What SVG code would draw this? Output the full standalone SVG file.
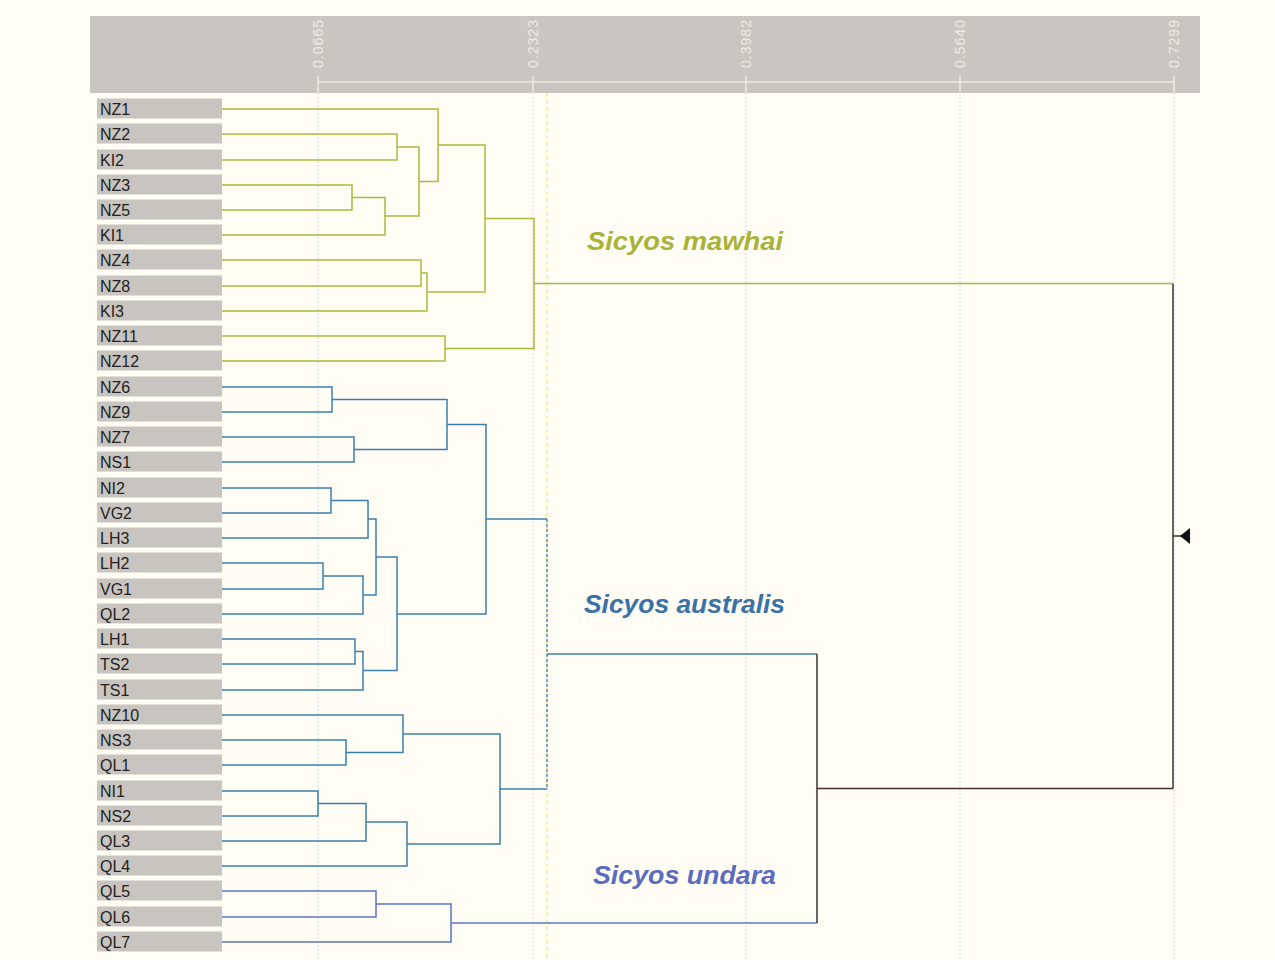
<svg xmlns="http://www.w3.org/2000/svg" width="1275" height="960" viewBox="0 0 1275 960">
<style>
.lbl{fill:#c8c5c0}
.lt{font-family:"Liberation Sans",Arial,sans-serif;font-size:16px;fill:#222}
.tick{font-family:"Liberation Sans",Arial,sans-serif;font-size:14px;fill:#f0eae2}
.grid{stroke:#cfdbe3;stroke-width:1;stroke-dasharray:2 2;fill:none}
.m{stroke:#adb83e;stroke-width:1.5;fill:none}
.a{stroke:#3c7fae;stroke-width:1.5;fill:none}
.u{stroke:#5a74c6;stroke-width:1.5;fill:none}
.k{stroke:#3a3434;stroke-width:1.5;fill:none}
.sp{font-family:"Liberation Sans",Arial,sans-serif;font-size:26px;font-weight:bold;font-style:italic}
</style>
<rect x="0" y="0" width="1275" height="960" fill="#fffdf4"/>
<g id="axis">
<rect x="90" y="16" width="1110" height="77" fill="#c9c6c1"/>
<line x1="318" y1="82" x2="1174" y2="82" stroke="#efe9e1" stroke-width="1.5"/>
<g stroke="#efe9e1" stroke-width="1.5">
<line x1="318" y1="76" x2="318" y2="93"/>
<line x1="533" y1="76" x2="533" y2="93"/>
<line x1="746" y1="76" x2="746" y2="93"/>
<line x1="960" y1="76" x2="960" y2="93"/>
<line x1="1174" y1="76" x2="1174" y2="93"/>
</g>
<text class="tick" transform="translate(323,68) rotate(-90)" textLength="48">0.0665</text>
<text class="tick" transform="translate(538,68) rotate(-90)" textLength="48">0.2323</text>
<text class="tick" transform="translate(751,68) rotate(-90)" textLength="48">0.3982</text>
<text class="tick" transform="translate(965,68) rotate(-90)" textLength="48">0.5640</text>
<text class="tick" transform="translate(1179,68) rotate(-90)" textLength="48">0.7299</text>
</g>
<g id="gridlines">
<line class="grid" x1="318" y1="93" x2="318" y2="960"/>
<line class="grid" x1="533" y1="93" x2="533" y2="960"/>
<line class="grid" x1="746" y1="93" x2="746" y2="960"/>
<line class="grid" x1="960" y1="93" x2="960" y2="960"/>
<line class="grid" x1="1174" y1="93" x2="1174" y2="960"/>
<line x1="547" y1="93" x2="547" y2="960" stroke="#e4e46a" stroke-width="1" stroke-dasharray="4 3"/>
</g>
<g id="connectors">
<!-- Sicyos mawhai -->
<path class="m" d="M222,134 H397 V160 H222"/>
<path class="m" d="M222,185 H352 V210 H222"/>
<path class="m" d="M352,197.5 H385 V235 H222"/>
<path class="m" d="M397,147 H419 V216 H385"/>
<path class="m" d="M222,109 H438 V181.5 H419"/>
<path class="m" d="M222,260 H421 V286 H222"/>
<path class="m" d="M421,273 H427 V311 H222"/>
<path class="m" d="M438,145 H485 V292 H427"/>
<path class="m" d="M222,336 H445 V361 H222"/>
<path class="m" d="M485,218.5 H534 V348.5 H445"/>
<path class="m" d="M534,283.5 H1173"/>
<!-- Sicyos australis -->
<path class="a" d="M222,387 H332 V412 H222"/>
<path class="a" d="M222,437 H354 V462 H222"/>
<path class="a" d="M332,399.5 H447 V449.5 H354"/>
<path class="a" d="M222,488 H331 V513 H222"/>
<path class="a" d="M331,500.5 H368 V538 H222"/>
<path class="a" d="M222,563 H323 V589 H222"/>
<path class="a" d="M323,576 H363 V614 H222"/>
<path class="a" d="M368,519 H376 V595 H363"/>
<path class="a" d="M222,639 H355 V664 H222"/>
<path class="a" d="M355,651.5 H363 V690 H222"/>
<path class="a" d="M376,557 H397 V670.5 H363"/>
<path class="a" d="M447,424.5 H486 V614 H397"/>
<path class="a" d="M486,519 H547"/>
<path class="a" d="M222,740 H346 V765 H222"/>
<path class="a" d="M222,715 H403 V752.5 H346"/>
<path class="a" d="M222,791 H318 V816 H222"/>
<path class="a" d="M318,803.5 H366 V841 H222"/>
<path class="a" d="M366,822 H407 V866 H222"/>
<path class="a" d="M403,734 H500 V844 H407"/>
<path class="a" d="M500,789 H547"/>
<path d="M547,519 V789" stroke="#3c7fae" stroke-width="1.3" stroke-dasharray="3 2" fill="none"/>
<path class="a" d="M547,654 H817"/>
<!-- Sicyos undara -->
<path class="u" d="M222,891 H376 V917 H222"/>
<path class="u" d="M376,904 H451 V942 H222"/>
<path class="u" d="M451,923 H817"/>
<!-- root -->
<path class="k" d="M817,654 V923"/>
<path d="M817,788.5 H1173" stroke="#4a2c2c" stroke-width="1.5" fill="none"/>
<path class="k" d="M1173,283.5 V788.5"/>
<path class="k" d="M1173,536 H1181"/>
<polygon points="1180,536 1190,528 1190,544" fill="#111"/>
</g>
<g id="leaves">
<g id="n-NZ1"><rect class="lbl" x="97" y="98.5" width="125" height="20"/><text class="lt" x="100" y="114.5">NZ1</text></g>
<g id="n-NZ2"><rect class="lbl" x="97" y="123.5" width="125" height="20"/><text class="lt" x="100" y="139.5">NZ2</text></g>
<g id="n-KI2"><rect class="lbl" x="97" y="149.5" width="125" height="20"/><text class="lt" x="100" y="165.5">KI2</text></g>
<g id="n-NZ3"><rect class="lbl" x="97" y="174.5" width="125" height="20"/><text class="lt" x="100" y="190.5">NZ3</text></g>
<g id="n-NZ5"><rect class="lbl" x="97" y="199.5" width="125" height="20"/><text class="lt" x="100" y="215.5">NZ5</text></g>
<g id="n-KI1"><rect class="lbl" x="97" y="224.5" width="125" height="20"/><text class="lt" x="100" y="240.5">KI1</text></g>
<g id="n-NZ4"><rect class="lbl" x="97" y="249.5" width="125" height="20"/><text class="lt" x="100" y="265.5">NZ4</text></g>
<g id="n-NZ8"><rect class="lbl" x="97" y="275.5" width="125" height="20"/><text class="lt" x="100" y="291.5">NZ8</text></g>
<g id="n-KI3"><rect class="lbl" x="97" y="300.5" width="125" height="20"/><text class="lt" x="100" y="316.5">KI3</text></g>
<g id="n-NZ11"><rect class="lbl" x="97" y="325.5" width="125" height="20"/><text class="lt" x="100" y="341.5">NZ11</text></g>
<g id="n-NZ12"><rect class="lbl" x="97" y="350.5" width="125" height="20"/><text class="lt" x="100" y="366.5">NZ12</text></g>
<g id="n-NZ6"><rect class="lbl" x="97" y="376.5" width="125" height="20"/><text class="lt" x="100" y="392.5">NZ6</text></g>
<g id="n-NZ9"><rect class="lbl" x="97" y="401.5" width="125" height="20"/><text class="lt" x="100" y="417.5">NZ9</text></g>
<g id="n-NZ7"><rect class="lbl" x="97" y="426.5" width="125" height="20"/><text class="lt" x="100" y="442.5">NZ7</text></g>
<g id="n-NS1"><rect class="lbl" x="97" y="451.5" width="125" height="20"/><text class="lt" x="100" y="467.5">NS1</text></g>
<g id="n-NI2"><rect class="lbl" x="97" y="477.5" width="125" height="20"/><text class="lt" x="100" y="493.5">NI2</text></g>
<g id="n-VG2"><rect class="lbl" x="97" y="502.5" width="125" height="20"/><text class="lt" x="100" y="518.5">VG2</text></g>
<g id="n-LH3"><rect class="lbl" x="97" y="527.5" width="125" height="20"/><text class="lt" x="100" y="543.5">LH3</text></g>
<g id="n-LH2"><rect class="lbl" x="97" y="552.5" width="125" height="20"/><text class="lt" x="100" y="568.5">LH2</text></g>
<g id="n-VG1"><rect class="lbl" x="97" y="578.5" width="125" height="20"/><text class="lt" x="100" y="594.5">VG1</text></g>
<g id="n-QL2"><rect class="lbl" x="97" y="603.5" width="125" height="20"/><text class="lt" x="100" y="619.5">QL2</text></g>
<g id="n-LH1"><rect class="lbl" x="97" y="628.5" width="125" height="20"/><text class="lt" x="100" y="644.5">LH1</text></g>
<g id="n-TS2"><rect class="lbl" x="97" y="653.5" width="125" height="20"/><text class="lt" x="100" y="669.5">TS2</text></g>
<g id="n-TS1"><rect class="lbl" x="97" y="679.5" width="125" height="20"/><text class="lt" x="100" y="695.5">TS1</text></g>
<g id="n-NZ10"><rect class="lbl" x="97" y="704.5" width="125" height="20"/><text class="lt" x="100" y="720.5">NZ10</text></g>
<g id="n-NS3"><rect class="lbl" x="97" y="729.5" width="125" height="20"/><text class="lt" x="100" y="745.5">NS3</text></g>
<g id="n-QL1"><rect class="lbl" x="97" y="754.5" width="125" height="20"/><text class="lt" x="100" y="770.5">QL1</text></g>
<g id="n-NI1"><rect class="lbl" x="97" y="780.5" width="125" height="20"/><text class="lt" x="100" y="796.5">NI1</text></g>
<g id="n-NS2"><rect class="lbl" x="97" y="805.5" width="125" height="20"/><text class="lt" x="100" y="821.5">NS2</text></g>
<g id="n-QL3"><rect class="lbl" x="97" y="830.5" width="125" height="20"/><text class="lt" x="100" y="846.5">QL3</text></g>
<g id="n-QL4"><rect class="lbl" x="97" y="855.5" width="125" height="20"/><text class="lt" x="100" y="871.5">QL4</text></g>
<g id="n-QL5"><rect class="lbl" x="97" y="880.5" width="125" height="20"/><text class="lt" x="100" y="896.5">QL5</text></g>
<g id="n-QL6"><rect class="lbl" x="97" y="906.5" width="125" height="20"/><text class="lt" x="100" y="922.5">QL6</text></g>
<g id="n-QL7"><rect class="lbl" x="97" y="931.5" width="125" height="20"/><text class="lt" x="100" y="947.5">QL7</text></g>
</g>
<g id="clade-labels">
<text class="sp" x="587" y="250" fill="#a9b33a" textLength="196" lengthAdjust="spacingAndGlyphs">Sicyos mawhai</text>
<text class="sp" x="584" y="613" fill="#3a72a8" textLength="201" lengthAdjust="spacingAndGlyphs">Sicyos australis</text>
<text class="sp" x="593" y="884" fill="#5a6cc0" textLength="183" lengthAdjust="spacingAndGlyphs">Sicyos undara</text>
</g>
</svg>
